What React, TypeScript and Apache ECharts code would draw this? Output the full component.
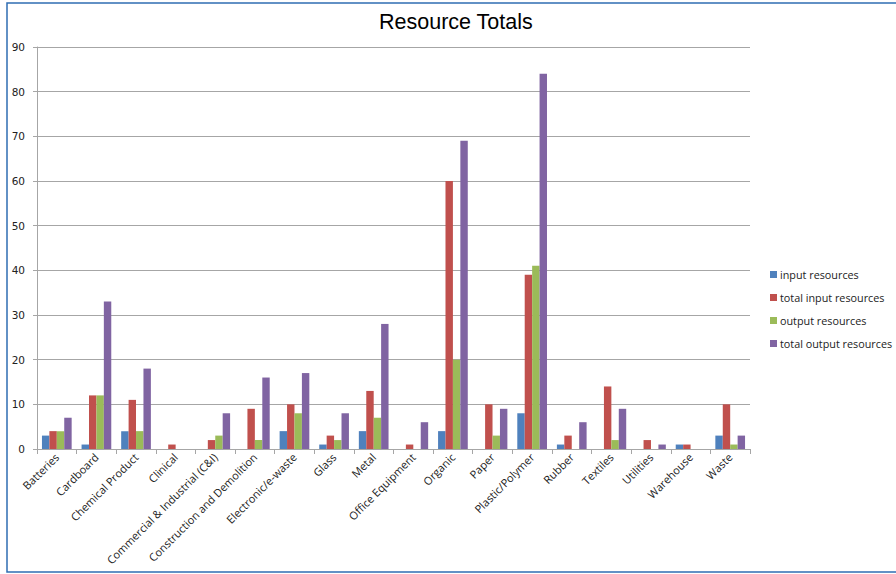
import React, { useEffect, useRef } from "react";
import * as echarts from "echarts";

const categories = [
  "Batteries",
  "Cardboard",
  "Chemical Product",
  "Clinical",
  "Commercial & Industrial (C&I)",
  "Construction and Demolition",
  "Electronic/e-waste",
  "Glass",
  "Metal",
  "Office Equipment",
  "Organic",
  "Paper",
  "Plastic/Polymer",
  "Rubber",
  "Textiles",
  "Utilities",
  "Warehouse",
  "Waste",
];

const inputResources = [3, 1, 4, 0, 0, 0, 4, 1, 4, 0, 4, 0, 8, 1, 0, 0, 1, 3];
const totalInputResources = [4, 12, 11, 1, 2, 9, 10, 3, 13, 1, 60, 10, 39, 3, 14, 2, 1, 10];
const outputResources = [4, 12, 4, 0, 3, 2, 8, 2, 7, 0, 20, 3, 41, 0, 2, 0, 0, 1];
const totalOutputResources = [7, 33, 18, 0, 8, 16, 17, 8, 28, 6, 69, 9, 84, 6, 9, 1, 0, 3];

const seriesNames = [
  "input resources",
  "total input resources",
  "output resources",
  "total output resources",
];
const seriesColors = ["#4f81bd", "#c0504d", "#9bbb59", "#8064a2"];
const seriesData = [inputResources, totalInputResources, outputResources, totalOutputResources];

const FONT = "'Open Sans', 'DejaVu Sans', sans-serif";

export default function App() {
  const ref = useRef<HTMLDivElement>(null);

  useEffect(() => {
    if (!ref.current) return;
    const chart = echarts.init(ref.current, undefined, { renderer: "svg" });
    chart.setOption({
      animation: false,
      backgroundColor: "#ffffff",
      title: {
        text: "Resource Totals",
        left: 374,
        top: 6,
        textStyle: { fontFamily: "'Liberation Sans', Arial, sans-serif", fontSize: 21.5, fontWeight: "normal", color: "#000000" },
      },
      graphic: [
        {
          type: "rect",
          shape: { x: 7, y: 3, width: 900, height: 569 },
          style: { fill: "none", stroke: "#2f6db3", lineWidth: 1.5 },
          silent: true,
        },
      ],
      legend: {
        orient: "vertical",
        left: 765,
        top: 264,
        itemWidth: 7,
        itemHeight: 7,
        itemGap: 12,
        icon: "rect",
        data: seriesNames,
        textStyle: { fontFamily: FONT, fontSize: 10.8, color: "#222222", padding: [0, 0, 0, -2] },
      },
      grid: { left: 37, right: 146, top: 47, bottom: 125, containLabel: false },
      xAxis: {
        type: "category",
        data: categories,
        axisLine: { show: true, lineStyle: { color: "#a6a6a6", width: 1 } },
        axisTick: { show: true, alignWithLabel: false, length: 5, lineStyle: { color: "#a6a6a6" } },
        axisLabel: {
          interval: 0,
          rotate: 45,
          fontFamily: FONT,
          fontSize: 11,
          color: "#222222",
          margin: 6,
        },
      },
      yAxis: {
        type: "value",
        min: 0,
        max: 90,
        interval: 10,
        axisLine: { show: true, lineStyle: { color: "#a6a6a6", width: 1 } },
        axisTick: { show: true, length: 4, lineStyle: { color: "#a6a6a6" } },
        axisLabel: { fontFamily: "'DejaVu Sans', sans-serif", fontSize: 10.5, color: "#222222", margin: 12 },
        splitLine: { show: true, lineStyle: { color: "#a6a6a6", width: 1 } },
      },
      series: seriesNames.map((name, i) => ({
        name,
        type: "bar",
        data: seriesData[i],
        barGap: "0%",
        barCategoryGap: "25%",
        itemStyle: { color: seriesColors[i] },
      })),
    });
    return () => chart.dispose();
  }, []);

  return (
    <div
      ref={ref}
      style={{ position: "absolute", left: 0, top: 0, width: 896, height: 574 }}
    />
  );
}
